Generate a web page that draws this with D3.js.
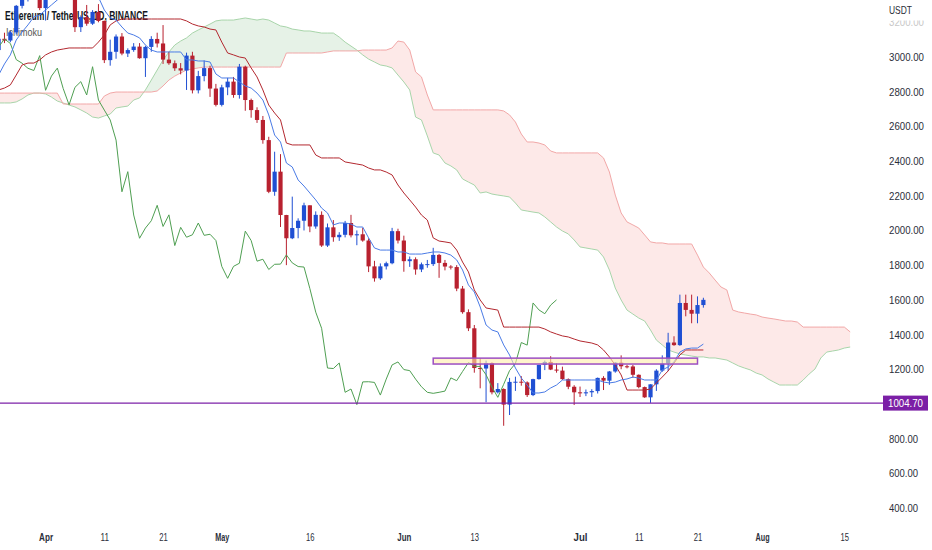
<!DOCTYPE html>
<html lang="en">
<head>
<meta charset="utf-8">
<title>Ethereum / TetherUS, 1D, BINANCE</title>
<script src="https://cdn.jsdelivr.net/npm/d3@7"></script>
<style>
  body { margin: 0; background: #fff; }
  text { font-family: "Liberation Sans", Arial, sans-serif; }
</style>
</head>
<body>
<div id="chart"></div>
<script>
// daily candles from 24 Mar 2022 to 22 Jul 2022 (one value per day)
var startDay = "2022-03-24";

var open = [3040,3105,3095,3142,3295,3330,3400,3384,3282,3455,
  3444,3522,3521,3410,3172,3230,3192,3260,3208,2982,
  3030,3118,3020,3040,3060,2993,3058,3104,3078,2985,
  2964,2935,2922,3008,2808,2890,2936,2818,2724,2825,
  2858,2781,2944,2752,2694,2637,2521,2223,2339,2089,
  1955,2014,2056,2145,2023,2090,1913,2018,1961,1975,
  2043,1972,1978,1942,1793,1724,1793,1811,1996,1942,
  1823,1834,1775,1805,1806,1859,1813,1792,1789,1665,
  1529,1436,1207,1204,1236,1067,1086,996,1127,1128,
  1124,1051,1143,1225,1242,1198,1192,1143,1099,1067,
  1061,1067,1074,1150,1134,1187,1238,1217,1216,1168,
  1097,1038,1113,1192,1233,1354,1339,1582,1542,1520,
  1570];

var high = [3125,3140,3150,3300,3480,3480,3445,3440,3470,3580,
  3580,3550,3556,3415,3240,3300,3270,3305,3210,3100,
  3130,3138,3050,3080,3080,3065,3120,3140,3184,3030,
  2980,2965,3025,3030,2920,2980,2950,2845,2840,2880,
  2885,2960,2950,2760,2710,2660,2540,2454,2440,2090,
  2195,2070,2160,2145,2110,2110,2040,2060,1990,2055,
  2090,2000,2015,1955,1825,1810,1820,2015,2010,1970,
  1850,1845,1815,1830,1900,1865,1830,1800,1800,1680,
  1545,1455,1264,1250,1240,1120,1090,1150,1157,1160,
  1130,1145,1225,1250,1275,1235,1215,1147,1108,1100,
  1083,1085,1152,1160,1190,1240,1280,1225,1225,1170,
  1100,1113,1200,1280,1410,1390,1630,1630,1630,1620,
  1612];

var low = [3015,3080,3085,3130,3280,3320,3340,3270,3210,3430,
  3420,3400,3400,3144,3144,3180,3185,3200,2965,2950,
  2990,3010,3000,3030,2990,2885,3030,3055,2960,2955,
  2920,2900,2810,2790,2790,2860,2770,2715,2715,2780,
  2765,2760,2690,2650,2620,2500,2215,2200,2020,1800,
  1950,1955,2000,1990,2010,1905,1905,1935,1940,1960,
  1960,1915,1935,1760,1705,1715,1775,1805,1925,1762,
  1790,1745,1760,1785,1795,1727,1770,1775,1650,1520,
  1420,1180,1090,1010,1055,1060,874,936,1075,1105,
  1040,1045,1140,1195,1195,1180,1138,1085,994,1040,
  1045,1040,1060,1080,1110,1180,1200,1205,1150,1090,
  1035,1006,1075,1185,1190,1335,1335,1505,1465,1465,
  1555];

var close = [3105,3095,3142,3295,3330,3400,3384,3282,3455,3444,
  3522,3521,3410,3172,3230,3192,3260,3208,2982,3030,
  3118,3020,3040,3060,2993,3058,3104,3078,2985,2964,
  2935,2922,3008,2808,2890,2936,2818,2724,2825,2858,
  2781,2944,2752,2694,2637,2521,2223,2339,2089,1955,
  2014,2056,2145,2023,2090,1913,2018,1961,1975,2043,
  1972,1978,1942,1793,1724,1793,1811,1996,1942,1823,
  1834,1775,1805,1806,1859,1813,1792,1789,1665,1529,
  1436,1207,1204,1236,1067,1086,996,1127,1128,1124,
  1051,1143,1225,1242,1198,1192,1143,1099,1067,1061,
  1067,1074,1150,1134,1187,1238,1217,1216,1168,1097,
  1038,1113,1192,1233,1354,1339,1582,1542,1520,1570,
  1600];

// Ichimoku lines, same days as the candles
var tenkan = [2896,2960,3012,3098,3144,3185,3231,3242,3271,3300,
  3329,3355,3395,3365,3362,3362,3362,3345,3271,3225,
  3213,3173,3138,3127,3110,3069,3040,3029,3029,3029,
  3029,3029,2983,2983,2977,2977,2971,2902,2879,2879,
  2879,2856,2833,2821,2792,2752,2666,2550,2510,2389,
  2366,2291,2256,2216,2176,2129,2101,2032,2043,2043,
  2037,2020,2020,1957,1899,1887,1887,1887,1876,1876,
  1864,1864,1864,1870,1876,1876,1870,1858,1830,1772,
  1686,1645,1559,1455,1426,1415,1340,1282,1207,1149,
  1109,1063,1063,1069,1092,1109,1138,1138,1138,1138,
  1138,1138,1138,1126,1121,1126,1138,1144,1155,1149,
  1138,1138,1138,1196,1213,1242,1299,1317,1322,1322,
  1345];

var kijun = [2810,2821,2839,2896,2954,2965,2965,2983,3012,3029,
  3040,3046,3052,3052,3052,3052,3052,3086,3127,3185,
  3208,3219,3219,3219,3219,3219,3219,3219,3219,3219,
  3219,3219,3208,3190,3179,3173,3161,3156,3086,3023,
  3012,3000,2994,2937,2885,2810,2723,2677,2637,2504,
  2493,2493,2493,2493,2435,2418,2418,2418,2418,2395,
  2389,2383,2377,2360,2349,2349,2337,2320,2262,2216,
  2176,2135,2089,2060,1957,1939,1934,1928,1887,1818,
  1761,1657,1599,1553,1547,1541,1443,1443,1443,1443,
  1443,1443,1443,1432,1415,1403,1392,1386,1374,1363,
  1357,1351,1340,1311,1271,1224,1167,1080,1080,1080,
  1080,1086,1121,1155,1190,1236,1282,1311,1311,1311,
  1311];

// leading spans run 25 days past the last candle
var spanA = [2735,2735,2735,2741,2758,2781,2792,2792,2787,2769,
  2746,2735,2723,2712,2695,2677,2654,2648,2660,2671,
  2706,2712,2717,2752,2764,2810,2867,2925,2983,3029,
  3069,3092,3110,3138,3156,3173,3190,3208,3213,3213,
  3213,3219,3225,3219,3213,3219,3213,3196,3179,3173,
  3161,3156,3150,3150,3144,3138,3138,3138,3115,3086,
  3063,3040,3012,2988,2971,2954,2948,2937,2896,2856,
  2810,2654,2637,2545,2447,2435,2389,2372,2349,2297,
  2279,2262,2216,2222,2210,2204,2199,2193,2158,2118,
  2112,2106,2101,2078,2049,2020,1997,1980,1945,1905,
  1899,1893,1887,1847,1772,1668,1599,1541,1518,1495,
  1478,1426,1368,1340,1311,1299,1288,1282,1276,1271,
  1271,1265,1265,1259,1253,1236,1219,1207,1196,1178,
  1167,1144,1126,1109,1109,1109,1109,1138,1172,1201,
  1265,1299,1305,1311,1322,1328];

var spanB = [2792,2792,2792,2792,2792,2792,2792,2792,2792,2792,
  2792,2729,2729,2729,2729,2729,2729,2729,2775,2792,
  2798,2798,2798,2798,2798,2798,2798,2804,2833,2867,
  2890,2908,2925,2931,2937,2942,2942,2942,2942,2942,
  2942,2942,2942,2942,2942,2942,2942,2942,2942,3023,
  3023,3023,3023,3023,3023,3023,3029,3035,3035,3035,
  3035,3035,3040,3040,3040,3040,3040,3052,3092,3086,
  3040,2914,2885,2781,2695,2695,2695,2695,2695,2695,
  2695,2695,2695,2695,2695,2695,2689,2666,2625,2556,
  2510,2510,2504,2493,2458,2447,2447,2447,2447,2447,
  2447,2447,2447,2418,2337,2204,2101,2049,2032,2014,
  1974,1934,1928,1928,1922,1922,1922,1922,1922,1858,
  1789,1755,1714,1674,1657,1541,1530,1524,1518,1513,
  1501,1495,1490,1484,1478,1478,1472,1443,1443,1443,
  1443,1443,1443,1443,1443,1415];

var laggingShift = 25;

// price ticks and date ticks
var priceTicks = [3200,3000,2800,2600,2400,2200,2000,1800,1600,1400,1200,800,600,400];
var dateTicks = ["2022-04-01","2022-04-11","2022-04-21","2022-05-01","2022-05-16","2022-06-01",
  "2022-06-13","2022-07-01","2022-07-11","2022-07-21","2022-08-01","2022-08-15"];
var dateLabels = ["Apr","11","21","May","16","Jun","13","Jul","11","21","Aug","15"];

// drawings on the chart
var levelPrice = 1004.70;
var zoneDays = ["2022-06-06","2022-07-21"];
var zonePrices = [1264, 1230];

//Setup
var w = 932, h = 550;
var upColor = "#1f4fd3", downColor = "#b8212f";

var parse = d3.utcParse("%Y-%m-%d");
var day0 = parse(startDay);
var dayAt = function(i) { return d3.utcDay.offset(day0, i); };

var x = d3.scaleUtc()
  .domain([day0, dayAt(spanA.length - 1)])
  .range([-1.4, 850.2]);

var y = d3.scaleLinear()
  .domain([400, 3000])
  .range([508, 57]);

var svg = d3.select("#chart")
  .append("svg")
  .attr("width", w)
  .attr("height", h);

svg.append("rect")
  .attr("width", w)
  .attr("height", h)
  .attr("fill", "#fff");

var defs = svg.append("defs");
defs.append("clipPath").attr("id", "plot")
  .append("rect").attr("x", 0).attr("y", 0).attr("width", 883).attr("height", 525);

var g = svg.append("g").attr("clip-path", "url(#plot)");

//Legend (sits under the candles)
g.append("text")
  .attr("x", 5).attr("y", 19.5)
  .attr("font-size", "12px")
  .attr("font-weight", 600)
  .attr("fill", "#131722")
  .attr("textLength", 143)
  .attr("lengthAdjust", "spacingAndGlyphs")
  .text("Ethereum / TetherUS, 1D, BINANCE");

g.append("text")
  .attr("x", 6).attr("y", 35.5)
  .attr("font-size", "11px")
  .attr("fill", "#555")
  .attr("textLength", 36)
  .attr("lengthAdjust", "spacingAndGlyphs")
  .text("Ichimoku");

//Cloud
var spanIdx = d3.range(spanA.length);
var px = function(i) { return x(dayAt(i)); };

var between = d3.area().x(px)
  .y0(function(i) { return y(spanA[i]); })
  .y1(function(i) { return y(spanB[i]); });

defs.append("clipPath").attr("id", "aboveB")
  .append("path")
  .attr("d", d3.area().x(px).y0(function(i) { return y(spanB[i]); }).y1(-50)(spanIdx));

defs.append("clipPath").attr("id", "belowB")
  .append("path")
  .attr("d", d3.area().x(px).y0(function(i) { return y(spanB[i]); }).y1(700)(spanIdx));

g.append("path")
  .attr("d", between(spanIdx))
  .attr("fill", "#e6f2e7")
  .attr("clip-path", "url(#aboveB)");

g.append("path")
  .attr("d", between(spanIdx))
  .attr("fill", "#fde9e8")
  .attr("clip-path", "url(#belowB)");

var lineOf = function(arr) {
  return d3.line().x(px).y(function(i) { return y(arr[i]); });
};

g.append("path")
  .attr("d", lineOf(spanA)(spanIdx))
  .attr("fill", "none")
  .attr("stroke", "#a8d5aa")
  .attr("stroke-width", 1);

g.append("path")
  .attr("d", lineOf(spanB)(spanIdx))
  .attr("fill", "none")
  .attr("stroke", "#f2a7a7")
  .attr("stroke-width", 1);

//Candles
var idx = d3.range(close.length);

var candles = g.selectAll("g.candle")
  .data(idx)
  .enter()
  .append("g")
  .attr("class", "candle");

candles.append("line")
  .attr("x1", px).attr("x2", px)
  .attr("y1", function(i) { return y(high[i]); })
  .attr("y2", function(i) { return y(low[i]); })
  .attr("stroke", function(i) { return close[i] >= open[i] ? upColor : downColor; })
  .attr("stroke-width", 1);

candles.append("rect")
  .attr("x", function(i) { return px(i) - 2.1; })
  .attr("width", 4.2)
  .attr("y", function(i) { return y(Math.max(open[i], close[i])); })
  .attr("height", function(i) { return Math.max(1, Math.abs(y(open[i]) - y(close[i]))); })
  .attr("fill", function(i) { return close[i] >= open[i] ? upColor : downColor; });

//Lagging span: close drawn 25 days back
var lagIdx = d3.range(close.length - laggingShift);
g.append("path")
  .attr("d", d3.line().x(px).y(function(i) { return y(close[i + laggingShift]); })(lagIdx))
  .attr("fill", "none")
  .attr("stroke", "#4f9f52")
  .attr("stroke-width", 1);

g.append("path")
  .attr("d", lineOf(kijun)(idx))
  .attr("fill", "none")
  .attr("stroke", "#b3282f")
  .attr("stroke-width", 1);

g.append("path")
  .attr("d", lineOf(tenkan)(idx))
  .attr("fill", "none")
  .attr("stroke", "#4a7be6")
  .attr("stroke-width", 1);

//Zone rectangle
var zx0 = x(parse(zoneDays[0])), zx1 = x(parse(zoneDays[1]));
g.append("rect")
  .attr("x", zx0)
  .attr("y", y(zonePrices[0]))
  .attr("width", zx1 - zx0)
  .attr("height", y(zonePrices[1]) - y(zonePrices[0]))
  .attr("fill", "rgba(255,236,170,0.6)")
  .attr("stroke", "#9c4fc2")
  .attr("stroke-width", 1.5);

//Horizontal level
svg.append("line")
  .attr("x1", 0).attr("x2", 883)
  .attr("y1", y(levelPrice)).attr("y2", y(levelPrice))
  .attr("stroke", "#7d22a8")
  .attr("stroke-width", 1.2);

//Price axis
var yAxis = svg.append("g")
  .attr("transform", "translate(889,0)")
  .call(d3.axisRight(y).tickValues(priceTicks).tickFormat(d3.format(".2f")).tickSize(0).tickPadding(0));
yAxis.select(".domain").remove();
yAxis.selectAll("text")
  .attr("font-size", function(d) { return d === 3200 ? "10px" : "11px"; })
  .attr("font-family", "Liberation Sans, Arial, sans-serif")
  .attr("fill", function(d) { return d === 3200 ? "#c8c8c8" : "#2a2e39"; })
  .attr("textLength", function(d) { return d3.format(".2f")(d).length * 5.85 - 6; })
  .attr("lengthAdjust", "spacingAndGlyphs");

// currency label covers the top tick
svg.append("rect")
  .attr("x", 884).attr("y", 0).attr("width", 48).attr("height", 20.5)
  .attr("fill", "#fff");
svg.append("text")
  .attr("x", 889).attr("y", 14)
  .attr("font-size", "11px")
  .attr("fill", "#2a2e39")
  .attr("textLength", 23)
  .attr("lengthAdjust", "spacingAndGlyphs")
  .text("USDT");

// level label
svg.append("rect")
  .attr("x", 883).attr("y", y(levelPrice) - 7.5)
  .attr("width", 45).attr("height", 15)
  .attr("fill", "#7b1fa6");
svg.append("text")
  .attr("x", 888).attr("y", y(levelPrice))
  .attr("dy", "0.35em")
  .attr("font-size", "11px")
  .attr("fill", "#fff")
  .attr("textLength", 35)
  .attr("lengthAdjust", "spacingAndGlyphs")
  .text(d3.format(".2f")(levelPrice));

//Time axis
var xAxis = svg.append("g")
  .attr("transform", "translate(0,530)")
  .call(d3.axisBottom(x)
    .tickValues(dateTicks.map(parse))
    .tickFormat(function(d, i) { return dateLabels[i]; })
    .tickSize(0).tickPadding(3));
xAxis.select(".domain").remove();
xAxis.selectAll("text")
  .attr("font-size", "11px")
  .attr("font-family", "Liberation Sans, Arial, sans-serif")
  .attr("fill", "#2a2e39")
  .attr("font-weight", function(d, i) { return isNaN(+dateLabels[i]) ? 600 : 400; })
  .attr("textLength", function(d, i) { return isNaN(+dateLabels[i]) ? 14 : 8.5; })
  .attr("lengthAdjust", "spacingAndGlyphs");
</script>
</body>
</html>
